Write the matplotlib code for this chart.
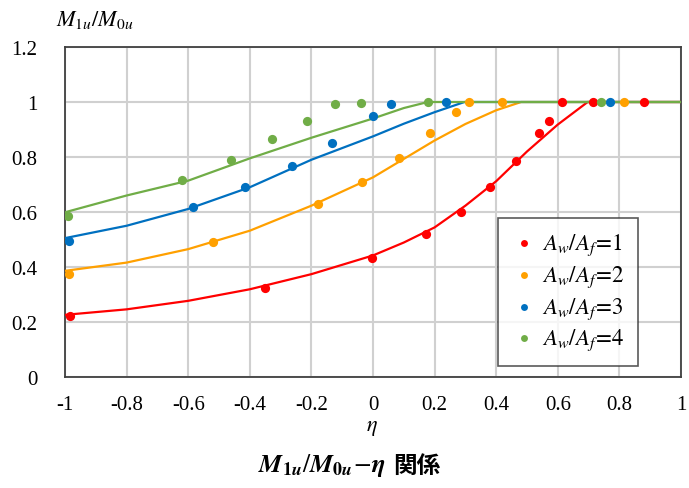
import matplotlib
matplotlib.use("Agg")
import matplotlib.pyplot as plt

plt.rcParams["font.family"] = ["Liberation Serif", "Noto Sans CJK JP"]
plt.rcParams["mathtext.fontset"] = "stix"
plt.rcParams["axes.unicode_minus"] = False

# measured points (eta, M1u/M0u) per web/flange area ratio
eta_1 = [-0.984, -0.35, -0.003, 0.171, 0.285, 0.381, 0.465, 0.54, 0.57, 0.615, 0.714, 0.88]
m_1 = [0.221, 0.322, 0.433, 0.52, 0.601, 0.69, 0.784, 0.888, 0.931, 1.0, 1.0, 1.0]
eta_2 = [-0.987, -0.518, -0.177, -0.037, 0.083, 0.184, 0.27, 0.313, 0.42, 0.815]
m_2 = [0.375, 0.49, 0.629, 0.708, 0.796, 0.886, 0.962, 1.0, 1.0, 1.0]
eta_3 = [-0.987, -0.583, -0.414, -0.263, -0.132, 0.0, 0.06, 0.237, 0.771]
m_3 = [0.495, 0.62, 0.692, 0.768, 0.852, 0.948, 0.993, 1.0, 1.0]
eta_4 = [-0.99, -0.621, -0.462, -0.329, -0.215, -0.124, -0.04, 0.18, 0.741]
m_4 = [0.584, 0.717, 0.79, 0.865, 0.932, 0.993, 0.996, 1.0, 1.0]

# evaluation curves
curve_eta_1 = [-1.0, -0.8, -0.6, -0.4, -0.2, 0.0, 0.1, 0.2, 0.3, 0.4, 0.5, 0.6, 0.697, 1.0]
curve_m_1 = [0.226, 0.246, 0.277, 0.319, 0.374, 0.442, 0.489, 0.544, 0.623, 0.712, 0.82, 0.918, 1.0, 1.0]
curve_eta_2 = [-1.0, -0.8, -0.6, -0.4, -0.2, 0.0, 0.1, 0.2, 0.3, 0.4, 0.481, 1.0]
curve_m_2 = [0.386, 0.416, 0.465, 0.532, 0.623, 0.726, 0.793, 0.86, 0.92, 0.97, 1.0, 1.0]
curve_eta_3 = [-1.0, -0.8, -0.6, -0.4, -0.2, 0.0, 0.1, 0.2, 0.297, 1.0]
curve_m_3 = [0.505, 0.55, 0.611, 0.69, 0.79, 0.875, 0.921, 0.963, 1.0, 1.0]
curve_eta_4 = [-1.0, -0.8, -0.6, -0.4, -0.2, 0.0, 0.1, 0.178, 1.0]
curve_m_4 = [0.599, 0.66, 0.714, 0.795, 0.87, 0.94, 0.978, 1.0, 1.0]

ratios = [1, 2, 3, 4]
colors = ["#FF0000", "#FFA000", "#0070C0", "#70AD47"]

x_ticks = [-1, -0.8, -0.6, -0.4, -0.2, 0, 0.2, 0.4, 0.6, 0.8, 1]
y_ticks = [0, 0.2, 0.4, 0.6, 0.8, 1, 1.2]

fig = plt.figure(figsize=(6.89, 4.89), dpi=100)
ax = fig.add_axes([65 / 689, 1 - 378 / 489, 616 / 689, 330 / 489])

series = [
    (eta_1, m_1, curve_eta_1, curve_m_1),
    (eta_2, m_2, curve_eta_2, curve_m_2),
    (eta_3, m_3, curve_eta_3, curve_m_3),
    (eta_4, m_4, curve_eta_4, curve_m_4),
]

handles = []
for (ex, ey, cx, cy), r, c in zip(series, ratios, colors):
    ax.plot(cx, cy, color=c, lw=1.6, zorder=3, solid_joinstyle="round")
    h = ax.scatter(ex, ey, s=44, color=c, zorder=4, linewidths=0,
                   label=r"$A_w/A_f\!=\!%d$" % r)
    handles.append(h)

ax.set_xlim(-1, 1)
ax.set_ylim(0, 1.2)
ax.set_xticks(x_ticks)
ax.set_yticks(y_ticks)
ax.set_xticklabels(["%g" % v for v in x_ticks])
ax.set_yticklabels(["%g" % v for v in y_ticks])
ax.tick_params(length=0, labelsize=15)
ax.tick_params(axis="y", pad=20)
ax.tick_params(axis="x", pad=13)
ax.grid(True, color="#D0D0D0", lw=1.5, zorder=0)
ax.set_axisbelow(True)
for s in ax.spines.values():
    s.set_color("#404040")
    s.set_linewidth(1.3)

leg = ax.legend(handles=handles, loc="upper left", bbox_to_anchor=(433 / 616, 1 - 171 / 330),
                fontsize=16.5, frameon=True, fancybox=False, edgecolor="#303030",
                handletextpad=0.2, borderpad=0.6, labelspacing=0.27, handlelength=1.1,
                scatterpoints=1, markerscale=0.75, borderaxespad=0)
leg.get_frame().set_linewidth(1.2)

fig.text(95 / 689, 1 - 20 / 489, r"$M_{1u}/M_{0u}$", fontsize=16, ha="center", va="center")
fig.text(372 / 689, 1 - 429 / 489, r"$\eta$", fontsize=16, ha="center", va="center")

# caption: math part followed by the Japanese word
cap_math = fig.text(0, 1 - 466 / 489,
                    r"$\mathbfit{M}_{\mathbf{1}\mathbfit{u}}/\mathbfit{M}_{\mathbf{0}\mathbfit{u}}\!-\!\mathbfit{\eta}$",
                    fontsize=18.5, ha="left", va="center")
cap_jp = fig.text(0, 1 - 466 / 489, "関係", family="Noto Sans CJK JP",
                  fontsize=17, fontweight="bold", ha="left", va="center")
renderer = fig.canvas.get_renderer()
w_math = cap_math.get_window_extent(renderer).width
w_jp = cap_jp.get_window_extent(renderer).width
gap = 7
x0 = 349 - (w_math + gap + w_jp) / 2
cap_math.set_x(x0 / 689)
cap_jp.set_x((x0 + w_math + gap) / 689)

fig.savefig("out.png", dpi=100)
